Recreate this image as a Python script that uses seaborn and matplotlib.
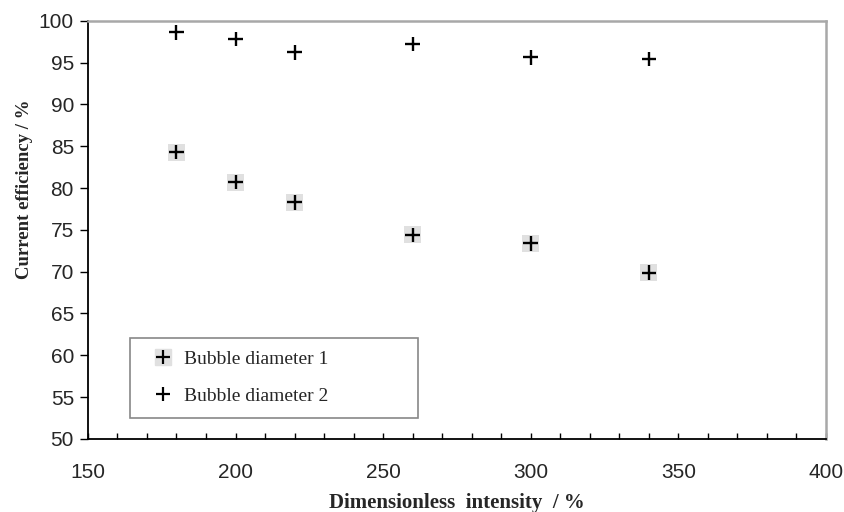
import matplotlib
matplotlib.use("Agg")
import matplotlib.pyplot as plt
import seaborn as sns
import pandas as pd
from matplotlib.lines import Line2D
from matplotlib.legend_handler import HandlerTuple
from matplotlib.ticker import MultipleLocator

sns.set_style("white")

intensity = [180, 200, 220, 260, 300, 340]
eff_d1 = [84.3, 80.7, 78.3, 74.4, 73.4, 69.9]
eff_d2 = [98.6, 97.8, 96.2, 97.2, 95.6, 95.4]
labels = ["Bubble diameter 1", "Bubble diameter 2"]

df = pd.DataFrame({
    "x": intensity * 2,
    "y": eff_d1 + eff_d2,
    "series": [labels[0]] * len(intensity) + [labels[1]] * len(intensity),
})

fig = plt.figure(figsize=(8.45, 5.12), dpi=100)
ax = fig.add_axes([0.104, 0.1426, 0.8735, 0.817])

# gray backing squares for series 1
sns.scatterplot(x=intensity, y=eff_d1, ax=ax, marker="s", s=150, color="#e0e0e0",
                edgecolor="none", legend=False, zorder=2)
sns.scatterplot(data=df, x="x", y="y", hue="series", palette=["black", "black"],
                marker="+", s=110, linewidth=1.7, ax=ax, legend=False, zorder=3)

ax.set_xlim(150, 400)
ax.set_ylim(50, 100)
ax.xaxis.set_major_locator(MultipleLocator(50))
ax.xaxis.set_minor_locator(MultipleLocator(10))
ax.yaxis.set_major_locator(MultipleLocator(5))

for s in ["left", "bottom"]:
    ax.spines[s].set_color("black")
    ax.spines[s].set_linewidth(1.3)
for s in ["top", "right"]:
    ax.spines[s].set_color("#a8a8a8")
    ax.spines[s].set_linewidth(1.8)

ax.tick_params(axis="x", which="both", direction="in", length=4, width=1, color="black",
               pad=17, labelsize=15, bottom=True)
ax.tick_params(axis="y", which="major", direction="out", length=6, width=1, color="black",
               pad=4, labelsize=15, left=True)
for lab in ax.get_xticklabels() + ax.get_yticklabels():
    lab.set_fontfamily("Liberation Sans")

ax.set_xlabel("Dimensionless  intensity  / %", fontfamily="Liberation Serif",
              fontweight="bold", fontsize=15, labelpad=8)
ax.set_ylabel("Current efficiency / %", fontfamily="Liberation Serif",
              fontweight="bold", fontsize=13.5)
ax.yaxis.set_label_coords(-0.074, 0.596)

h1 = (Line2D([], [], marker="s", color="#e0e0e0", markersize=11, linestyle="none"),
      Line2D([], [], marker="+", color="black", markersize=10, markeredgewidth=1.6, linestyle="none"))
h2 = Line2D([], [], marker="+", color="black", markersize=10, markeredgewidth=1.6, linestyle="none")
leg = ax.legend([h1, h2], labels, handler_map={tuple: HandlerTuple(ndivide=1)},
                loc="lower left", bbox_to_anchor=(0.057, 0.05, 0.39, 0.194), mode="expand",
                prop={"family": "Liberation Serif", "size": 14}, fancybox=False,
                edgecolor="#888888", framealpha=1, handlelength=2.1, handletextpad=0.0,
                borderpad=0.66, labelspacing=1.0, borderaxespad=0)
leg.get_frame().set_linewidth(1.2)

fig.savefig("out.png", dpi=100)
